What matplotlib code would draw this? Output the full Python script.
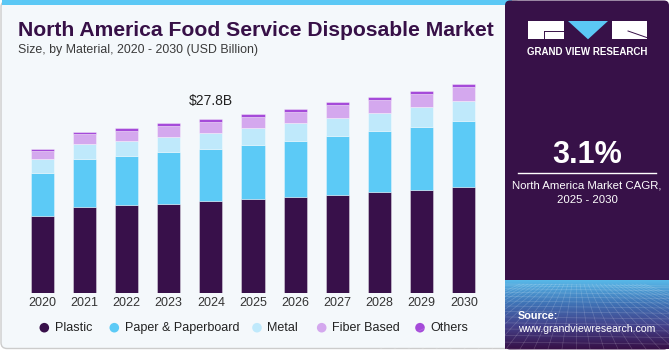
import numpy as np
import matplotlib
matplotlib.use('Agg')
import matplotlib.pyplot as plt
from matplotlib.patches import FancyBboxPatch, Rectangle, Polygon, Circle
from matplotlib.colors import LinearSegmentedColormap

# values (USD billion)
years = ['2020', '2021', '2022', '2023', '2024', '2025',
         '2026', '2027', '2028', '2029', '2030']
plastic = [12.33, 13.72, 14.08, 14.29, 14.67, 15.04, 15.36, 15.68, 16.16, 16.52, 17.00]
paper = [6.86, 7.70, 7.82, 8.20, 8.39, 8.66, 8.98, 9.46, 9.78, 10.05, 10.48]
metal = [2.19, 2.39, 2.44, 2.44, 2.55, 2.62, 2.78, 2.87, 2.87, 3.14, 3.14]
fiber = [1.37, 1.55, 1.60, 1.75, 1.75, 1.80, 1.85, 1.98, 2.07, 2.07, 2.23]
others = [0.30, 0.38, 0.40, 0.42, 0.44, 0.46, 0.47, 0.48, 0.50, 0.51, 0.53]

series_names = ['Plastic', 'Paper & Paperboard', 'Metal', 'Fiber Based', 'Others']
series_colors = ['#38104a', '#5ccaf6', '#bfe9fb', '#d4a8ee', '#a54bd9']
highlight_year = '2024'

plt.rcParams['font.family'] = ['Liberation Sans', 'DejaVu Sans']

W, H = 670, 350
fig = plt.figure(figsize=(6.7, 3.5), dpi=100)
fig.patch.set_facecolor('white')

# background layer in pixel coordinates (y down)
bg = fig.add_axes([0, 0, 1, 1])
bg.set_xlim(0, W)
bg.set_ylim(H, 0)
bg.axis('off')

panel_bg = '#f4f8fb'
dark = '#371148'

bg.add_patch(FancyBboxPatch((1, 1), 520, 347.5,
                            boxstyle='round,pad=0,rounding_size=6',
                            facecolor=panel_bg, edgecolor='#cccccc', linewidth=1))
bg.add_patch(Rectangle((2, 0), 510, 4.5, facecolor='#5bc8f5', edgecolor='none'))

# right side panel
bg.add_patch(FancyBboxPatch((505, 0.5), 164, 349,
                            boxstyle='round,pad=0,rounding_size=5',
                            facecolor=dark, edgecolor='none'))
grad = LinearSegmentedColormap.from_list('g', [dark, '#44418a', '#3f73b6', '#58b8e8'])
bg.imshow(np.linspace(0, 1, 100).reshape(-1, 1), cmap=grad, aspect='auto',
          extent=[505, 669, 349, 280], origin='lower', zorder=2)
# faint perspective grid in the gradient
for k in range(14):
    yy = 284 + 65 * (k / 13) ** 1.4
    bg.plot([505, 669], [yy, yy + 2], color='white', alpha=0.18, lw=0.5, zorder=3)
for k in range(-10, 22):
    bg.plot([560 + k * 4, 520 + k * 14], [284, 349], color='white', alpha=0.18,
            lw=0.5, zorder=3)
bg.set_xlim(0, W)
bg.set_ylim(H, 0)

# logo
bg.add_patch(Rectangle((527.7, 21), 36.3, 18.3, facecolor='white', edgecolor='none', zorder=4))
bg.plot([544, 564], [30.5, 30.5], color=dark, lw=0.7, zorder=5)
bg.plot([544, 544], [30.5, 39.3], color=dark, lw=0.7, zorder=5)
bg.add_patch(Polygon([(568, 21), (608, 21), (588, 39.3)], closed=True,
                     facecolor='#5bc8f5', edgecolor='none', zorder=4))
bg.add_patch(Rectangle((611.7, 21), 35, 18.3, facecolor='white', edgecolor='none', zorder=4))
bg.plot([628, 646.7], [31, 37.5], color=dark, lw=0.7, zorder=5)
bg.text(587.5, 51.7, 'GRAND VIEW RESEARCH', color='white', fontsize=7,
        fontweight='bold', ha='center', va='center', zorder=5)

bg.text(587, 155, '3.1%', color='white', fontsize=22, fontweight='bold',
        ha='center', va='center', zorder=5)
bg.plot([518, 656], [173.3, 173.3], color='white', lw=1, zorder=5)
bg.text(587, 185, 'North America Market CAGR,', color='white', fontsize=8.2,
        ha='center', va='center', zorder=5)
bg.text(587, 200.3, '2025 - 2030', color='white', fontsize=8.2,
        ha='center', va='center', zorder=5)
bg.text(518, 316, 'Source:', color='white', fontsize=7.8, fontweight='bold',
        ha='left', va='center', zorder=5)
bg.text(518, 329, 'www.grandviewresearch.com', color='white', fontsize=7.6,
        ha='left', va='center', zorder=5)

# titles
bg.text(18, 35.5, 'North America Food Service Disposable Market', color='#371047',
        fontsize=15.2, fontweight='bold', ha='left', va='baseline')
bg.text(18, 52.5, 'Size, by Material, 2020 - 2030 (USD Billion)', color='#3a3a3a',
        fontsize=8.9, ha='left', va='baseline')

# legend
legend_x = [44.3, 114.3, 257, 321.7, 420]
for lx, name, col in zip(legend_x, series_names, series_colors):
    bg.add_patch(Circle((lx, 327.7), 4.8, facecolor=col, edgecolor='none'))
    bg.text(lx + 10.5, 327.7, name, color='#222222', fontsize=9, ha='left', va='center')

# chart
ax = fig.add_axes([21.2 / W, (H - 293.3) / H, 463.7 / W, 250.8 / H])
ax.set_facecolor('none')
x = np.arange(len(years))
bottom = np.zeros(len(years))
for vals, col in zip([plastic, paper, metal, fiber, others], series_colors):
    ax.bar(x, vals, width=0.55, bottom=bottom, color=col,
           edgecolor=(1, 1, 1, 0.5), linewidth=0.5)
    bottom = bottom + np.array(vals)

ax.set_xlim(-0.5, len(years) - 0.5)
ax.set_ylim(0, 40)
ax.set_xticks(x)
ax.set_xticklabels(years, fontsize=9, color='#333333')
ax.set_yticks([])
ax.tick_params(axis='x', length=0, pad=2.5)
for s in ax.spines.values():
    s.set_visible(False)

i = years.index(highlight_year)
ax.annotate('$%.1fB' % bottom[i], (x[i], bottom[i]), xytext=(0, 13),
            textcoords='offset points', ha='center', va='center',
            fontsize=10, color='#222222')

plt.savefig('out.png', dpi=100, facecolor=fig.get_facecolor())
